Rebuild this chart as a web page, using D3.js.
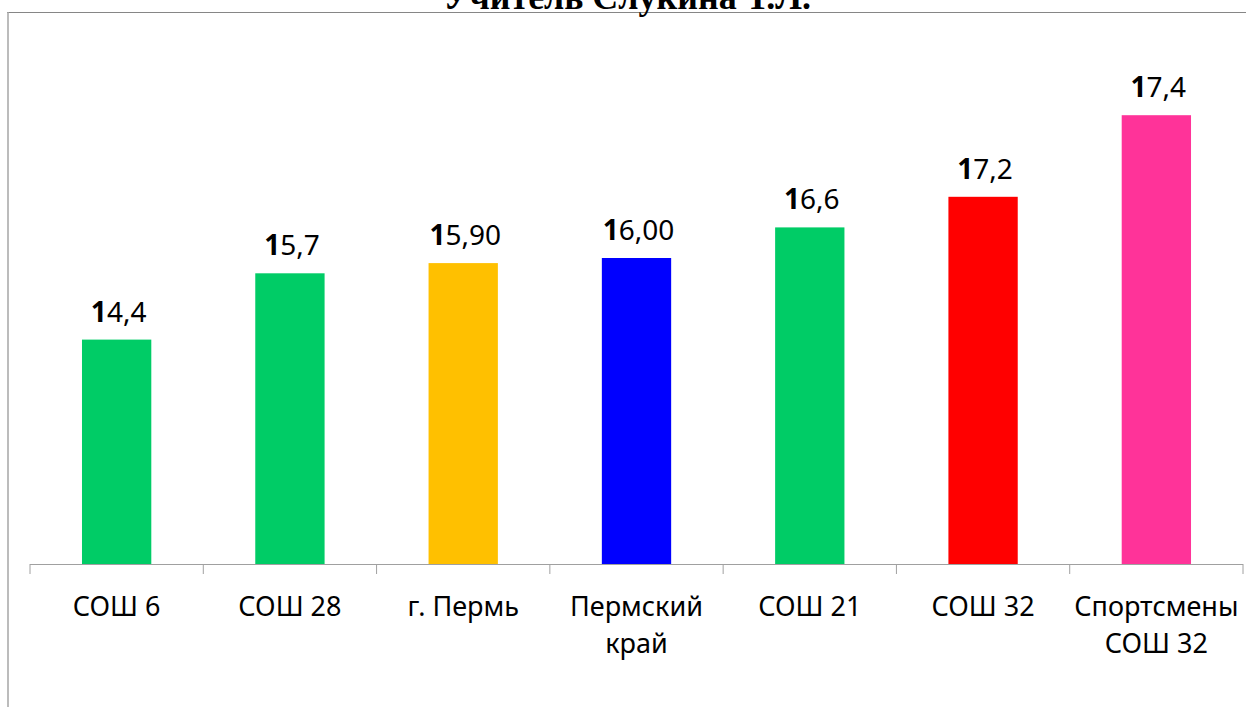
<!DOCTYPE html>
<html>
<head>
<meta charset="utf-8">
<script src="https://cdn.jsdelivr.net/npm/d3@7"></script>
<style>
  body { margin: 0; background: #fff; }
  svg { display: block; }
</style>
</head>
<body>
<div id="chart"></div>
<script>
// chart data
var categories = ["СОШ 6", "СОШ 28", "г. Пермь", "Пермский|край", "СОШ 21", "СОШ 32", "Спортсмены|СОШ 32"];
var values = [14.4, 15.7, 15.9, 16.0, 16.6, 17.2, 18.8];
var valueLabels = ["14,4", "15,7", "15,90", "16,00", "16,6", "17,2", "17,4"];
var colors = ["#00cc66", "#00cc66", "#ffc000", "#0000ff", "#00cc66", "#ff0000", "#ff3399"];
var title = "Учитель  Слукина Т.Л.";

var width = 1246, height = 707;

var svg = d3.select("#chart")
    .append("svg")
    .attr("width", width)
    .attr("height", height);

// frame lines (chart area border, partly cut off)
svg.append("line")
    .attr("x1", 7).attr("x2", width)
    .attr("y1", 12.5).attr("y2", 12.5)
    .attr("stroke", "#868686").attr("stroke-width", 1.2);
svg.append("line")
    .attr("x1", 8).attr("x2", 8)
    .attr("y1", 12).attr("y2", height)
    .attr("stroke", "#a6a6a6").attr("stroke-width", 1.5);

// title, its top is clipped in the original too
svg.append("text")
    .attr("x", 627)
    .attr("y", 8.5)
    .attr("text-anchor", "middle")
    .style("font-family", "'Liberation Serif', 'Times New Roman', serif")
    .style("font-weight", "bold")
    .style("font-size", "36px")
    .text(title);

var x = d3.scaleBand()
    .domain(categories)
    .range([30, 1243])
    .paddingInner(0.6)
    .paddingOuter(0.3);

var y = d3.scaleLinear()
    .domain([10, 20])
    .range([564, 54]);

var step = x.step();

svg.selectAll(".bar")
    .data(values)
    .enter().append("rect")
    .attr("class", "bar")
    .attr("x", function(d, i) { return x(categories[i]); })
    .attr("width", x.bandwidth())
    .attr("y", function(d) { return y(d); })
    .attr("height", function(d) { return y(10) - y(d); })
    .attr("fill", function(d, i) { return colors[i]; });

// axis line with ticks between categories
var axis = d3.axisBottom(x).tickSize(0).tickFormat("");
var gx = svg.append("g")
    .attr("transform", "translate(0," + y(10) + ")")
    .call(axis);
gx.select(".domain").attr("stroke", "#a0a0a0").attr("d", "M30,0.5H1243");

var tickPos = d3.range(categories.length + 1).map(function(i) { return 30 + i * step; });
gx.selectAll(".sep")
    .data(tickPos)
    .enter().append("line")
    .attr("class", "sep")
    .attr("x1", function(d) { return d; })
    .attr("x2", function(d) { return d; })
    .attr("y1", 0).attr("y2", 10)
    .attr("stroke", "#a0a0a0");

// category labels
var catText = svg.selectAll(".cat")
    .data(categories)
    .enter().append("text")
    .attr("class", "cat")
    .attr("text-anchor", "middle")
    .attr("x", function(d) { return x(d) + x.bandwidth() / 2; })
    .attr("y", 616)
    .style("font-family", "'Noto Sans', 'Open Sans', sans-serif")
    .style("font-size", "27px")
    .style("fill", "#000");

catText.each(function(d) {
    var t = d3.select(this);
    var cx = x(d) + x.bandwidth() / 2;
    d.split("|").forEach(function(line, i) {
        t.append("tspan")
            .attr("x", cx)
            .attr("dy", i === 0 ? 0 : 37)
            .text(line);
    });
});

// value labels, first digit bold
var lbl = svg.selectAll(".val")
    .data(values)
    .enter().append("text")
    .attr("class", "val")
    .attr("text-anchor", "middle")
    .attr("x", function(d, i) { return x(categories[i]) + x.bandwidth() / 2 + 2; })
    .attr("y", function(d) { return y(d) - 18; })
    .style("font-family", "'Noto Sans', 'Open Sans', sans-serif")
    .style("font-size", "28px")
    .style("fill", "#000");

lbl.each(function(d, i) {
    var s = valueLabels[i];
    var t = d3.select(this);
    t.append("tspan").style("font-weight", "bold").text(s.slice(0, 1));
    t.append("tspan").text(s.slice(1));
});
</script>
</body>
</html>
